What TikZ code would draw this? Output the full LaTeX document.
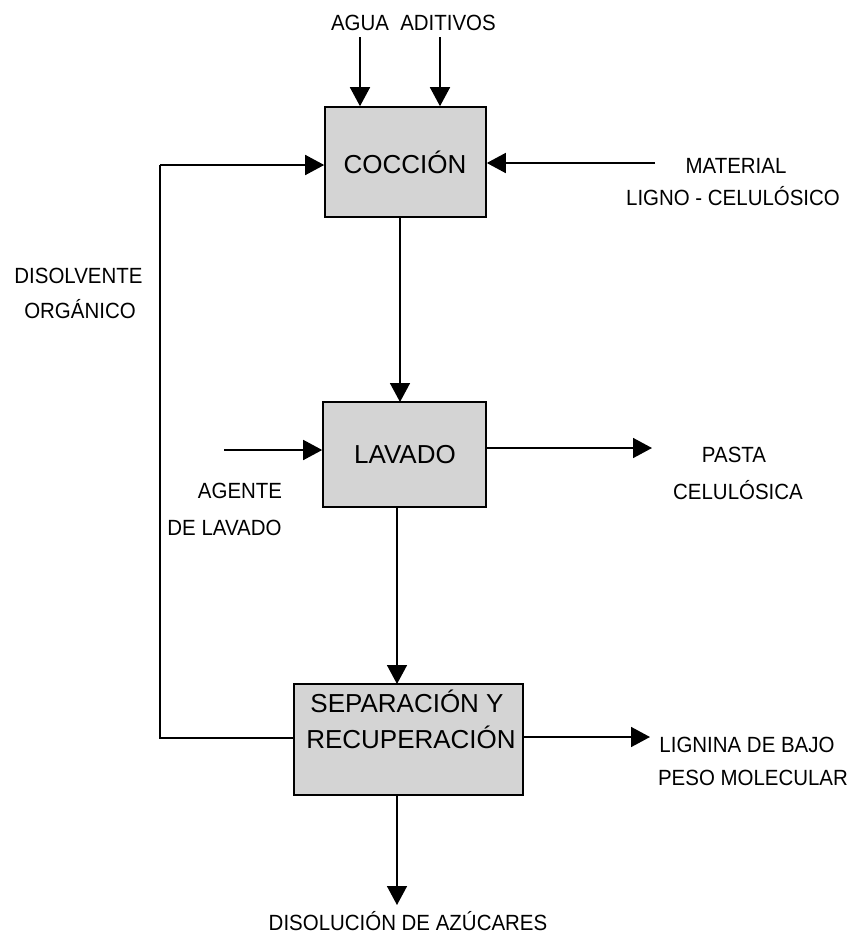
\documentclass[tikz,border=0pt]{standalone}
\usepackage{fontspec}
\setmainfont{Liberation Sans}
\newfontfamily\lblfont[FakeStretch=0.93]{Liberation Sans}
\usetikzlibrary{arrows.meta}
\definecolor{boxgray}{RGB}{212,212,212}
\tikzset{
  proc/.style={draw=black, line width=1.6pt, fill=boxgray, inner sep=0pt},
  big/.style={font=\fontsize{26}{30}\selectfont, inner sep=0pt, anchor=base},
  lbl/.style={font=\lblfont\fontsize{22}{26}\selectfont, inner sep=0pt, anchor=base},
  flow/.style={line width=1.6pt, -{Triangle[length=19pt,width=20pt]}},
  plain/.style={line width=1.6pt}
}
\begin{document}
\begin{tikzpicture}[x=1pt,y=-1pt]
\useasboundingbox (0,0) rectangle (852,935);
% boxes
\node[proc, minimum width=161pt, minimum height=110pt] (coc) at (405.5,162) {};
\node[big] (cocT) at (405,173) {COCCIÓN};
\node[proc, minimum width=163pt, minimum height=105pt] (lav) at (404.5,454.5) {};
\node[big] (lavT) at (405,463) {LAVADO};
\node[proc, minimum width=229pt, minimum height=111pt] (sep) at (408.5,739.5) {};
\node[big] (sepT1) at (407,712) {SEPARACIÓN Y};
\node[big] (sepT2) at (411,748) {RECUPERACIÓN};
% labels
\node[lbl] (agua) at (360,30) {AGUA};
\node[lbl] (adit) at (448,30) {ADITIVOS};
\node[lbl] (mat1) at (736,173) {MATERIAL};
\node[lbl] (mat2) at (733,205) {LIGNO - CELULÓSICO};
\node[lbl] (dis1) at (78.5,283) {DISOLVENTE};
\node[lbl] (dis2) at (80,318) {ORGÁNICO};
\node[lbl] (ag1) at (240,498) {AGENTE};
\node[lbl] (ag2) at (224.5,535) {DE LAVADO};
\node[lbl] (pas1) at (734,462) {PASTA};
\node[lbl] (pas2) at (738,499) {CELULÓSICA};
\node[lbl] (lig1) at (747,752) {LIGNINA DE BAJO};
\node[lbl] (lig2) at (753,785) {PESO MOLECULAR};
\node[lbl] (azu) at (408,930) {DISOLUCIÓN DE AZÚCARES};
% coordinates
\coordinate (aguaTop) at (360,37);
\coordinate (aditTop) at (440,37);
\coordinate (matStart) at (655,163);
\coordinate (recTop) at (160,165);
\coordinate (recBot) at (160,738);
\coordinate (agStart) at (224,450);
\coordinate (pasEnd) at (652,448);
\coordinate (ligEnd) at (650,737);
\coordinate (azuEnd) at (397,905);
% connectors
\draw[flow] (aguaTop) -- (aguaTop |- coc.north);
\draw[flow] (aditTop) -- (aditTop |- coc.north);
\draw[flow] (matStart) -- (matStart -| coc.east);
\draw[plain] (sep.west |- recBot) -- (recBot) -- (recTop);
\draw[flow] (recTop) -- (recTop -| coc.west);
\draw[flow] (400,217) -- (400,402);
\draw[flow] (agStart) -- (agStart -| lav.west);
\draw[flow] (lav.east |- pasEnd) -- (pasEnd);
\draw[flow] (397,507) -- (397,684);
\draw[flow] (sep.east |- ligEnd) -- (ligEnd);
\draw[flow] (397,795) -- (azuEnd);
\end{tikzpicture}
\end{document}
